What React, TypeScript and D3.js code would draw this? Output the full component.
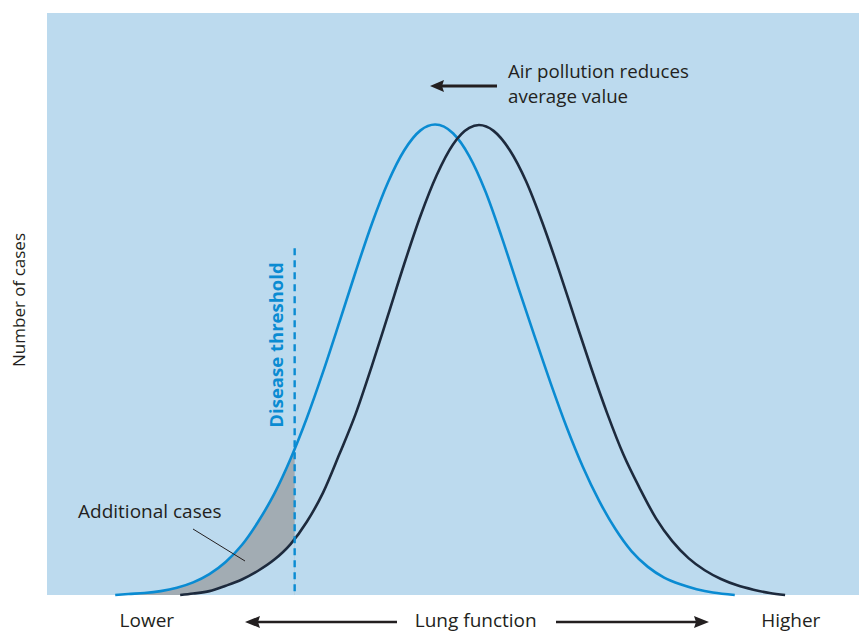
import React from "react";
import * as d3 from "d3";

// Lung function (0-100, arbitrary units) vs number of cases (arbitrary units)
const pollutedCurve: [number, number][] = [
  [8.4, 0], [10, 0.2], [12, 0.4], [14, 0.8], [16, 1.5], [18, 2.6], [20, 4.3], [22, 6.8],
  [24, 10.3], [26, 15.1], [28, 20.9], [30, 28.1], [32, 36.5], [34, 46.0], [36, 56.2],
  [38, 66.6], [40, 76.5], [42, 85.1], [44, 91.7], [46, 95.8], [47.8, 97.0], [50, 95.2],
  [52, 90.5], [54, 83.2], [56, 73.8], [58, 63.6], [60, 53.6], [62, 43.8], [64, 34.6],
  [66, 26.4], [68, 19.4], [70, 13.6], [72, 9.0], [74, 5.8], [76, 3.6], [78, 2.2],
  [80, 1.2], [82, 0.5], [84.7, 0],
];
const cleanCurve: [number, number][] = [
  [16.4, 0], [18, 0.3], [20, 0.8], [22, 1.9], [24, 3.2], [26, 5.0], [28, 7.3], [30, 10.5],
  [32, 15.1], [34, 21.1], [36, 29.0], [38, 37.3], [40, 47.2], [42, 57.7], [44, 68.3],
  [46, 78.2], [48, 86.6], [50, 92.9], [52, 96.3], [53.2, 96.9], [55, 95.7], [57, 91.7],
  [59, 85.3], [61, 76.8], [63, 67.2], [65, 57.0], [67, 46.9], [69, 37.4], [71, 28.9],
  [73, 22.0], [75, 15.8], [77, 11.1], [79, 7.6], [81, 5.1], [83, 3.3], [85, 2.0],
  [87, 1.1], [89, 0.4], [90.9, 0],
];
const thresholdValue = 30.5;
const thresholdTop = 71.5;
const xLabels = ["Lower", "Lung function", "Higher"];
const xLabelPos = [12.3, 52.8, 91.6];
const yLabel = "Number of cases";
const annotationLines = ["Air pollution reduces", "average value"];
const additionalLabel = "Additional cases";
const thresholdLabel = "Disease threshold";

const W = 859, H = 632;
const BG = "#bcdaee", BLUE = "#0a8bd2", DARK = "#1d2a3d", TEXT = "#231f20", GREY = "#a2acb3";
const FONT = "'Open Sans', 'Noto Sans', sans-serif";

export default function App() {
  const x = d3.scaleLinear().domain([0, 100]).range([47, 859]);
  const y = d3.scaleLinear().domain([0, 120]).range([595, 13]);
  const curve = d3.curveMonotoneX;
  const line = d3.line<[number, number]>().x(d => x(d[0])).y(d => y(d[1])).curve(curve);
  const area = d3.area<[number, number]>().x(d => x(d[0])).y0(y(0)).y1(d => y(d[1])).curve(curve);

  const tx = x(thresholdValue);
  const arrow = (x1: number, x2: number, yy: number, sw: number, hl: number, hw: number) => {
    const dir = Math.sign(x2 - x1);
    const base = x2 - dir * hl;
    return (
      <g>
        <line x1={x1} y1={yy} x2={base + dir * 1} y2={yy} stroke={TEXT} strokeWidth={sw} />
        <path d={`M${x2},${yy} L${base - dir * 2},${yy - hw} L${base},${yy} L${base - dir * 2},${yy + hw} Z`} fill={TEXT} />
      </g>
    );
  };

  return (
    <svg width={W} height={H} style={{ position: "absolute", left: 0, top: 0 }} fontFamily={FONT}>
      <defs>
        <clipPath id="thr">
          <rect x={x(0)} y={y(120)} width={tx - x(0)} height={y(0) - y(120)} />
        </clipPath>
      </defs>
      <rect x={x(0)} y={y(120)} width={x(100) - x(0)} height={y(0) - y(120)} fill={BG} />
      <g clipPath="url(#thr)">
        <path d={area(pollutedCurve) || ""} fill={GREY} />
        <path d={area(cleanCurve) || ""} fill={BG} />
      </g>
      <path d={line(pollutedCurve) || ""} fill="none" stroke={BLUE} strokeWidth={2.6} />
      <path d={line(cleanCurve) || ""} fill="none" stroke={DARK} strokeWidth={2.6} />
      <line x1={tx} x2={tx} y1={y(thresholdTop)} y2={y(0)} stroke={BLUE} strokeWidth={2.4} strokeDasharray="7 5" />
      <text transform={`translate(${tx - 12},345) rotate(-90)`} textAnchor="middle"
        fontSize={18.5} fontWeight="bold" fill={BLUE}>{thresholdLabel}</text>
      {annotationLines.map((t, i) => (
        <text key={t} x={508} y={78 + i * 25} fontSize={18.7} fill={TEXT}>{t}</text>
      ))}
      {arrow(497, 430, 86, 2.8, 12, 6)}
      <text x={78} y={518} fontSize={19} fill={TEXT}>{additionalLabel}</text>
      <line x1={193} y1={529} x2={245} y2={561} stroke={TEXT} strokeWidth={1} />
      {xLabels.map((t, i) => (
        <text key={t} x={x(xLabelPos[i])} y={627} textAnchor="middle" fontSize={19} fill={TEXT}>{t}</text>
      ))}
      {arrow(397, 245, 622, 2.6, 13, 6)}
      {arrow(556, 709, 622, 2.6, 13, 6)}
      <text transform={`translate(25,300) rotate(-90)`} textAnchor="middle" fontSize={17} fill={TEXT}>{yLabel}</text>
    </svg>
  );
}
